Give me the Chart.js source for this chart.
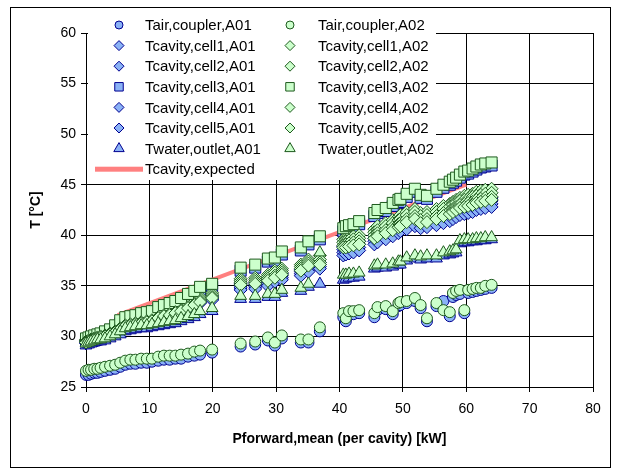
<!DOCTYPE html>
<html>
<head>
<meta charset="utf-8">
<script src="https://cdn.jsdelivr.net/npm/chart.js@4.4.1/dist/chart.umd.min.js"></script>
<style>
  html, body { margin: 0; padding: 0; background: #fff; }
</style>
</head>
<body>
<canvas id="chart" width="618" height="471"></canvas>
<script>
// forward power per cavity [kW], shared by both modules
const power = [0, 0.4, 0.8, 1.3, 1.8, 2.3, 3.0, 3.8, 4.6, 5.4,
  6.2, 7.0, 7.8, 8.7, 9.6, 10.4, 11.4, 12.3, 13.2, 14.1,
  15.0, 16.1, 17.1, 18.0, 19.9,
  24.4, 26.7, 28.7, 29.8, 30.9, 33.9, 35.1, 36.9,
  40.6, 41.0, 41.5, 42.2, 43.1, 45.5, 46.0, 47.3, 48.4, 49.3,
  49.6, 50.6, 51.9, 52.8, 53.8, 55.3, 56.4, 57.4, 57.9, 58.4,
  59.0, 59.7, 60.3, 61.0, 61.6, 62.3, 63.0, 64.0];

// temperatures [°C]
const tairA01 = [26.2, 26.2, 26.3, 26.4, 26.4, 26.5, 26.6, 26.7, 26.8, 27.0,
  27.2, 27.3, 27.3, 27.4, 27.4, 27.5, 27.6, 27.7, 27.7, 27.8,
  27.8, 28.0, 28.1, 28.2, 28.4,
  29.0, 29.2, 29.6, 29.1, 29.8, 29.4, 29.4, 30.5,
  31.9, 31.5, 32.1, 32.2, 32.3, 31.9, 32.6, 32.7, 32.2, 33.0,
  33.1, 33.3, 33.5, 32.8, 31.5, 33.0, 33.5, 32.0, 33.9, 34.1,
  34.2, 32.3, 34.3, 34.4, 34.5, 34.6, 34.7, 34.8];
const tairA02 = [26.6, 26.7, 26.7, 26.8, 26.8, 26.9, 27.0, 27.1, 27.2, 27.4,
  27.6, 27.7, 27.7, 27.8, 27.8, 27.8, 28.0, 28.1, 28.1, 28.1,
  28.2, 28.3, 28.5, 28.6, 28.7,
  29.3, 29.5, 29.9, 29.4, 30.1, 29.7, 29.7, 30.9,
  32.3, 31.8, 32.5, 32.5, 32.6, 32.3, 32.9, 33.0, 32.5, 33.3,
  33.4, 33.5, 33.8, 33.1, 31.8, 33.3, 32.6, 32.4, 34.3, 34.5,
  34.6, 32.6, 34.6, 34.7, 34.8, 34.8, 35.0, 35.1];

const cell1A01 = [29.6, 29.7, 29.8, 29.9, 29.9, 30.0, 30.1, 30.3, 30.6, 30.9,
  31.2, 31.3, 31.4, 31.5, 31.6, 31.7, 32.0, 32.2, 32.3, 32.5,
  32.7, 33.0, 33.3, 33.6, 34.0,
  35.2, 35.3, 35.6, 36.0, 36.2, 36.6, 37.0, 37.3,
  38.9, 39.0, 39.1, 39.2, 39.4, 40.0, 40.2, 40.5, 40.8, 41.1,
  41.3, 41.5, 41.8, 41.6, 41.7, 41.9, 42.1, 42.3, 42.5, 42.7,
  42.9, 43.0, 43.1, 43.2, 43.4, 43.5, 43.6, 43.7];
const cell2A01 = [29.5, 29.6, 29.7, 29.8, 29.8, 29.9, 30.0, 30.2, 30.5, 30.8,
  31.1, 31.2, 31.3, 31.4, 31.5, 31.6, 31.9, 32.1, 32.2, 32.4,
  32.6, 32.9, 33.2, 33.5, 33.8,
  35.0, 35.1, 35.4, 35.8, 36.0, 36.4, 36.8, 37.1,
  38.6, 38.7, 38.8, 38.9, 39.1, 39.7, 39.9, 40.2, 40.5, 40.8,
  41.0, 41.2, 41.5, 41.3, 41.4, 41.6, 41.8, 42.0, 42.2, 42.4,
  42.6, 42.7, 42.8, 42.9, 43.1, 43.2, 43.3, 43.4];
const cell3A01 = [29.6, 29.7, 29.8, 29.9, 30.0, 30.1, 30.3, 30.5, 30.8, 31.3,
  31.6, 31.7, 31.8, 32.0, 32.1, 32.2, 32.6, 32.8, 33.0, 33.2,
  33.5, 33.9, 34.2, 34.6, 34.9,
  36.5, 36.8, 37.4, 37.5, 38.1, 38.5, 39.1, 39.6,
  40.4, 40.6, 40.7, 40.8, 41.1, 41.9, 42.2, 42.4, 42.9, 43.2,
  43.3, 43.8, 44.3, 43.7, 43.6, 44.3, 44.7, 45.0, 45.2, 45.4,
  45.7, 46.0, 46.1, 46.3, 46.5, 46.7, 46.8, 46.9];
const cell4A01 = [29.4, 29.5, 29.6, 29.7, 29.7, 29.8, 29.9, 30.1, 30.4, 30.7,
  31.0, 31.1, 31.2, 31.3, 31.4, 31.5, 31.8, 32.0, 32.1, 32.3,
  32.5, 32.8, 33.1, 33.4, 33.7,
  34.8, 34.9, 35.2, 35.6, 35.8, 36.2, 36.6, 36.9,
  38.3, 38.4, 38.5, 38.6, 38.8, 39.4, 39.6, 39.9, 40.2, 40.5,
  40.7, 40.9, 41.2, 41.0, 41.1, 41.3, 41.5, 41.7, 41.9, 42.1,
  42.3, 42.4, 42.5, 42.6, 42.8, 42.9, 43.0, 43.1];
const cell5A01 = [29.3, 29.4, 29.5, 29.6, 29.6, 29.7, 29.8, 30.0, 30.3, 30.6,
  30.9, 31.0, 31.1, 31.2, 31.3, 31.4, 31.7, 31.9, 32.0, 32.2,
  32.4, 32.7, 33.0, 33.3, 33.6,
  34.6, 34.7, 35.0, 35.4, 35.6, 36.0, 36.4, 36.7,
  38.0, 38.1, 38.2, 38.3, 38.5, 39.1, 39.3, 39.6, 39.9, 40.2,
  40.4, 40.6, 40.9, 40.7, 40.8, 41.0, 41.2, 41.4, 41.6, 41.8,
  42.0, 42.1, 42.2, 42.3, 42.5, 42.6, 42.7, 42.8];
const waterA01 = [29.1, 29.2, 29.3, 29.4, 29.5, 29.5, 29.6, 29.8, 30.0, 30.2,
  30.5, 30.6, 30.7, 30.8, 30.8, 30.9, 31.0, 31.1, 31.2, 31.3,
  31.5, 31.7, 31.9, 32.2, 32.5,
  33.7, 33.7, 33.9, 33.9, 34.3, 34.5, 34.9, 35.2,
  35.6, 35.7, 35.8, 35.8, 35.9, 36.7, 36.8, 36.8, 36.9, 37.1,
  37.1, 37.5, 37.7, 37.6, 37.7, 37.7, 38.0, 38.1, 38.2, 38.3,
  39.2, 39.3, 39.3, 39.4, 39.4, 39.5, 39.5, 39.6];

const cell1A02 = [29.7, 29.8, 29.9, 30.0, 30.1, 30.2, 30.3, 30.5, 30.8, 31.1,
  31.4, 31.5, 31.6, 31.7, 31.9, 32.0, 32.3, 32.5, 32.6, 32.8,
  33.0, 33.3, 33.6, 33.9, 34.3,
  35.7, 35.8, 36.1, 36.5, 36.7, 37.1, 37.6, 38.0,
  39.6, 39.7, 39.8, 39.9, 40.0, 40.6, 40.9, 41.2, 41.5, 41.8,
  42.0, 42.3, 42.6, 42.2, 42.3, 42.6, 42.9, 43.1, 43.3, 43.5,
  43.7, 43.9, 44.0, 44.1, 44.3, 44.4, 44.5, 44.6];
const cell2A02 = [29.6, 29.7, 29.8, 29.9, 30.0, 30.1, 30.2, 30.4, 30.7, 31.0,
  31.3, 31.4, 31.5, 31.6, 31.7, 31.8, 32.1, 32.3, 32.4, 32.6,
  32.8, 33.1, 33.4, 33.7, 34.1,
  35.5, 35.6, 35.9, 36.3, 36.5, 36.9, 37.4, 37.6,
  39.3, 39.4, 39.5, 39.6, 39.7, 40.3, 40.5, 40.9, 41.2, 41.5,
  41.6, 42.0, 42.3, 41.9, 42.0, 42.3, 42.6, 42.8, 43.0, 43.2,
  43.4, 43.5, 43.6, 43.8, 43.9, 44.0, 44.1, 44.2];
const cell3A02 = [29.8, 29.9, 30.0, 30.1, 30.2, 30.3, 30.5, 30.7, 31.1, 31.6,
  31.9, 32.0, 32.1, 32.3, 32.4, 32.5, 32.9, 33.1, 33.3, 33.5,
  33.8, 34.2, 34.5, 34.9, 35.2,
  36.8, 37.1, 37.7, 37.8, 38.4, 38.8, 39.4, 39.9,
  40.7, 40.9, 41.0, 41.1, 41.4, 42.2, 42.5, 42.7, 43.2, 43.5,
  43.6, 44.1, 44.6, 44.0, 43.9, 44.6, 45.0, 45.3, 45.5, 45.7,
  46.0, 46.3, 46.4, 46.6, 46.8, 47.0, 47.1, 47.2];
const cell4A02 = [29.5, 29.6, 29.7, 29.8, 29.9, 30.0, 30.1, 30.3, 30.5, 30.8,
  31.1, 31.2, 31.3, 31.4, 31.5, 31.6, 31.9, 32.1, 32.2, 32.4,
  32.6, 32.9, 33.2, 33.5, 33.9,
  35.3, 35.4, 35.7, 36.0, 36.3, 36.7, 37.2, 37.3,
  39.0, 39.1, 39.2, 39.3, 39.4, 40.0, 40.2, 40.5, 40.8, 41.1,
  41.2, 41.6, 41.9, 41.5, 41.6, 41.9, 42.2, 42.4, 42.6, 42.8,
  43.0, 43.1, 43.2, 43.3, 43.5, 43.6, 43.7, 43.8];
const cell5A02 = [29.4, 29.5, 29.6, 29.7, 29.8, 29.9, 30.0, 30.2, 30.4, 30.7,
  31.0, 31.1, 31.2, 31.3, 31.4, 31.5, 31.8, 32.0, 32.1, 32.3,
  32.5, 32.8, 33.1, 33.4, 33.8,
  35.1, 35.2, 35.5, 35.8, 36.1, 36.5, 37.0, 37.1,
  38.8, 38.8, 38.9, 39.0, 39.1, 39.7, 39.9, 40.2, 40.5, 40.8,
  40.9, 41.3, 41.6, 41.2, 41.3, 41.6, 41.9, 42.1, 42.3, 42.5,
  42.7, 42.8, 42.9, 43.0, 43.2, 43.3, 43.4, 43.5];
const waterA02 = [29.3, 29.4, 29.5, 29.6, 29.7, 29.7, 29.8, 30.0, 30.2, 30.5,
  30.8, 30.9, 31.0, 31.1, 31.1, 31.2, 31.3, 31.4, 31.5, 31.6,
  31.8, 32.0, 32.2, 32.5, 32.8,
  34.0, 34.0, 34.2, 34.2, 34.6, 34.8, 35.2, 38.3,
  36.1, 36.1, 36.2, 36.2, 36.3, 37.0, 37.1, 37.1, 37.2, 37.4,
  37.4, 37.8, 38.0, 37.9, 38.0, 38.0, 38.3, 38.4, 38.5, 38.6,
  39.5, 39.6, 39.6, 39.6, 39.7, 39.7, 39.8, 39.8];

// expected cavity temperature (straight line)
const expectedPower = [5, 60];
const expectedT = [32.1, 45.0];

const FONT = '"Liberation Sans", Arial, sans-serif';

const colors = {
    blueFill: '#8AB2F6',
    blueEdge: '#000090',
    greenFill: '#CCFFCC',
    greenEdge: '#1E5A1E',
    expected: '#FF8080'
};

// marker sizes in plot / in legend
const plotRadius = { circle: 5.5, rectRot: 6.5, rect: 7.8, triangle: 6.8 };
const legendRadius = { circle: 4, rectRot: 5, rect: 6, triangle: 6 };

function pointsOf(xs, ys) {
    return xs.map((x, i) => ({ x: x, y: ys[i] }));
}

function makeSeries(label, values, style, module) {
    const a01 = module === 'A01';
    return {
        label: label,
        data: pointsOf(power, values),
        pointStyle: style,
        pointRadius: plotRadius[style],
        pointBackgroundColor: a01 ? colors.blueFill : colors.greenFill,
        pointBorderColor: a01 ? colors.blueEdge : colors.greenEdge,
        backgroundColor: a01 ? colors.blueFill : colors.greenFill,
        borderColor: a01 ? colors.blueEdge : colors.greenEdge,
        pointBorderWidth: 1,
        showLine: false,
        clip: false
    };
}

const seriesA01 = [
    makeSeries('Tair,coupler,A01', tairA01, 'circle', 'A01'),
    makeSeries('Tcavity,cell1,A01', cell1A01, 'rectRot', 'A01'),
    makeSeries('Tcavity,cell2,A01', cell2A01, 'rectRot', 'A01'),
    makeSeries('Tcavity,cell3,A01', cell3A01, 'rect', 'A01'),
    makeSeries('Tcavity,cell4,A01', cell4A01, 'rectRot', 'A01'),
    makeSeries('Tcavity,cell5,A01', cell5A01, 'rectRot', 'A01'),
    makeSeries('Twater,outlet,A01', waterA01, 'triangle', 'A01')
];
const seriesA02 = [
    makeSeries('Tair,coupler,A02', tairA02, 'circle', 'A02'),
    makeSeries('Tcavity,cell1,A02', cell1A02, 'rectRot', 'A02'),
    makeSeries('Tcavity,cell2,A02', cell2A02, 'rectRot', 'A02'),
    makeSeries('Tcavity,cell3,A02', cell3A02, 'rect', 'A02'),
    makeSeries('Tcavity,cell4,A02', cell4A02, 'rectRot', 'A02'),
    makeSeries('Tcavity,cell5,A02', cell5A02, 'rectRot', 'A02'),
    makeSeries('Twater,outlet,A02', waterA02, 'triangle', 'A02')
];
const expectedSeries = {
    label: 'Tcavity,expected',
    data: pointsOf(expectedPower, expectedT),
    showLine: true,
    borderColor: colors.expected,
    backgroundColor: colors.expected,
    borderWidth: 4,
    pointRadius: 0
};

// first dataset is drawn on top: A02 over A01 over the expected line
const datasets = [...seriesA02.slice().reverse(), ...seriesA01.slice().reverse(), expectedSeries];

// legend in two columns over the top-left of the plot
const legendPlugin = {
    id: 'boxLegend',
    afterDraw(chart) {
        const ctx = chart.ctx;
        const cols = [
            { markX: 119, textX: 145, items: [...seriesA01, expectedSeries] },
            { markX: 290, textX: 318, items: seriesA02 }
        ];
        ctx.save();
        ctx.fillStyle = '#fff';
        ctx.fillRect(88, 13, 348, 167);
        ctx.font = '15px ' + FONT;
        ctx.textBaseline = 'middle';
        cols.forEach(col => {
            col.items.forEach((ds, i) => {
                const y = 25 + i * 20.6;
                if (ds.showLine) {
                    ctx.fillStyle = ds.borderColor;
                    ctx.fillRect(95, y - 2.5, 48, 5);
                } else {
                    ctx.fillStyle = ds.pointBackgroundColor;
                    ctx.strokeStyle = ds.pointBorderColor;
                    ctx.lineWidth = 1;
                    Chart.helpers.drawPoint(ctx, {
                        pointStyle: ds.pointStyle,
                        radius: legendRadius[ds.pointStyle],
                        rotation: 0,
                        borderWidth: 1
                    }, col.markX, y);
                }
                ctx.fillStyle = '#000';
                ctx.fillText(ds.label, col.textX, y + 1);
            });
        });
        ctx.restore();
    }
};

// white page with a thin frame
const framePlugin = {
    id: 'frame',
    beforeDraw(chart) {
        const ctx = chart.ctx;
        ctx.save();
        ctx.fillStyle = '#fff';
        ctx.fillRect(0, 0, chart.width, chart.height);
        ctx.strokeStyle = '#000';
        ctx.lineWidth = 1;
        ctx.strokeRect(10.5, 7.5, 600, 460);
        ctx.restore();
    }
};

Chart.defaults.font.family = FONT;
Chart.defaults.color = '#000';

new Chart(document.getElementById('chart'), {
    type: 'scatter',
    data: { datasets: datasets },
    options: {
        responsive: false,
        animation: false,
        layout: { padding: { left: 0, top: 33, right: 25, bottom: 0 } },
        plugins: {
            legend: { display: false },
            tooltip: { enabled: false }
        },
        scales: {
            x: {
                type: 'linear',
                min: 0,
                max: 80,
                ticks: { stepSize: 10, padding: 9, font: { size: 14 }, color: '#000' },
                grid: { color: '#000', tickColor: '#000', tickLength: 5 },
                border: { color: '#000' },
                title: {
                    display: true,
                    text: 'Pforward,mean (per cavity) [kW]',
                    font: { size: 14, weight: 'bold' },
                    padding: { top: 0, bottom: 23 }
                },
                afterFit: scale => { scale.height = 84; }
            },
            y: {
                type: 'linear',
                min: 25,
                max: 60,
                ticks: { stepSize: 5, padding: 5, font: { size: 14 }, color: '#000' },
                grid: { color: '#000', tickColor: '#000', tickLength: 5 },
                border: { color: '#000' },
                title: {
                    display: true,
                    text: 'T [°C]',
                    font: { size: 14, weight: 'bold' },
                    padding: { top: 28, bottom: 0 }
                },
                afterFit: scale => { scale.width = 86; }
            }
        }
    },
    plugins: [framePlugin, legendPlugin]
});
</script>
</body>
</html>
